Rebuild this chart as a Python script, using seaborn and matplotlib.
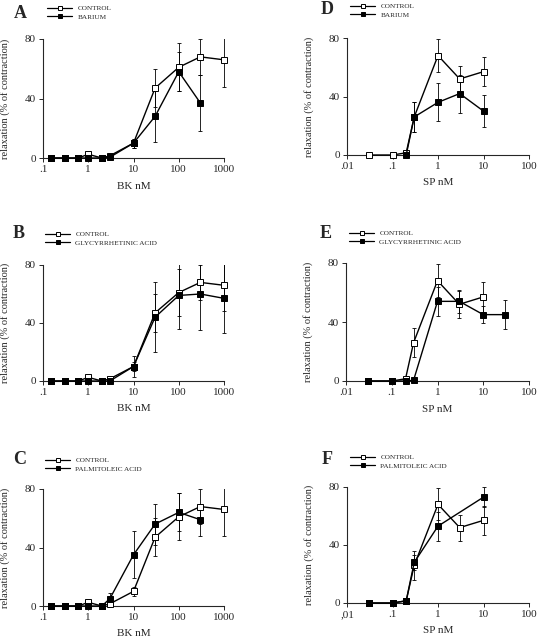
import matplotlib
matplotlib.use('Agg')
import pandas as pd
import matplotlib.pyplot as plt
import seaborn as sns
from matplotlib.lines import Line2D
from matplotlib.patches import Rectangle
from matplotlib.ticker import NullLocator

sns.set_style('ticks')
plt.rcParams['font.family'] = ['Liberation Serif', 'DejaVu Serif']

# BK concentration-response (nM)
bk_x = [0.15, 0.3, 0.6, 1, 2, 3, 10, 30, 100, 300, 1000]
bk_control = [0, 0, 0, 2.5, 0, 1.5, 10, 47, 61, 68, 66]
bk_control_err = [0, 0, 0, 1, 0, 1, 3, 13, 16, 12, 18]

bk_barium_x = [0.15, 0.3, 0.6, 1, 2, 3, 10, 30, 100, 300]
bk_barium = [0, 0, 0, 0, 0, 0.5, 10, 28, 58, 37]
bk_barium_err = [0, 0, 0, 0, 0, 0.5, 3, 17, 13, 19]

bk_glyc = [0, 0, 0, 0, 0, 0, 10, 44, 59, 60, 57]
bk_glyc_err = [0, 0, 0, 0, 0, 0, 7, 24, 23, 25, 24]

bk_palm_x = [0.15, 0.3, 0.6, 1, 2, 3, 10, 30, 100, 300]
bk_palm = [0, 0, 0, 0, 0, 5, 35, 56, 64, 59]
bk_palm_err = [0, 0, 0, 0, 0, 4, 16, 14, 13, 11]

# SP concentration-response (nM)
sp_x = [0.03, 0.1, 0.2, 0.3, 1, 3, 10]
sp_control = [0, 0, 1.5, 26, 68, 52, 57]
sp_control_err = [0, 0, 1, 10, 11, 9, 10]

sp_barium_x = [0.2, 0.3, 1, 3, 10]
sp_barium = [0, 26, 36, 42, 30]
sp_barium_err = [0, 10, 13, 13, 11]

sp_glyc_x = [0.03, 0.1, 0.2, 0.3, 1, 3, 10, 30]
sp_glyc = [0, 0, 0, 0.5, 54, 54, 45, 45]
sp_glyc_err = [0, 0, 0, 0.5, 10, 8, 6, 10]

sp_palm_x = [0.03, 0.1, 0.2, 0.3, 1, 10]
sp_palm = [0, 0, 1.5, 28, 53, 73]
sp_palm_err = [0, 0, 1, 5, 10, 7]

bk_ticks = [0.1, 1, 10, 100, 1000]
bk_ticklabels = ['.1', '1', '10', '100', '1000']
sp_ticks = [0.01, 0.1, 1, 10, 100]
sp_ticklabels = ['.01', '.1', '1', '10', '100']
sp_ticklabels_f = [',01', '.1', '1', '10', '100']

W, H = 537, 640
fig = plt.figure(figsize=(W / 100, H / 100), dpi=100)


def px_axes(left, right, top, bottom):
    return fig.add_axes([left / W, 1 - bottom / H, (right - left) / W, (bottom - top) / H])


def draw_err(ax, x, y, e):
    # error bars cut at the top of the axis only, not at the side edges
    clip = Rectangle((-0.1, -0.2), 1.2, 1.2, transform=ax.transAxes,
                     facecolor='none', edgecolor='none')
    ax.add_patch(clip)
    cont = ax.errorbar(x, y, yerr=e, fmt='none', ecolor='black', elinewidth=0.6,
                       capsize=1.3, capthick=0.6)
    for art in cont.get_children():
        art.set_clip_path(clip)


def panel(ax, cx, cy, ce, tx, ty, te, tname, xlabel, ticks, ticklabels, letter, letter_xy, leg_xy):
    df_c = pd.DataFrame({'conc': cx, 'relax': cy})
    df_t = pd.DataFrame({'conc': tx, 'relax': ty})
    draw_err(ax, cx, cy, ce)
    draw_err(ax, tx, ty, te)
    sns.lineplot(data=df_c, x='conc', y='relax', ax=ax, color='black', marker='s',
                 markersize=3.8, markerfacecolor='white', markeredgecolor='black',
                 markeredgewidth=0.7, linewidth=1.0, clip_on=False, zorder=3)
    sns.lineplot(data=df_t, x='conc', y='relax', ax=ax, color='black', marker='s',
                 markersize=3.8, markerfacecolor='black', markeredgecolor='black',
                 markeredgewidth=0.7, linewidth=1.0, clip_on=False, zorder=4)
    ax.set_xscale('log')
    ax.set_xlim(ticks[0], ticks[-1])
    ax.set_ylim(0, 80)
    ax.set_xticks(ticks)
    ax.set_xticklabels(ticklabels)
    ax.xaxis.set_minor_locator(NullLocator())
    ax.set_yticks([0, 40, 80])
    ax.tick_params(axis='both', labelsize=8, length=3, width=0.7, pad=2)
    sns.despine(ax=ax)
    for s in ['left', 'bottom']:
        ax.spines[s].set_linewidth(0.8)
    ax.set_xlabel(xlabel, fontsize=8)
    ax.set_ylabel('relaxation (% of contraction)', fontsize=7.5)
    ax.xaxis.set_label_coords(0.5, -0.2)
    ax.yaxis.set_label_coords(-0.18, 0.5)

    handles = [
        Line2D([], [], color='black', lw=0.9, marker='s', markersize=3.2,
               markerfacecolor='white', markeredgewidth=0.7),
        Line2D([], [], color='black', lw=0.9, marker='s', markersize=3.2,
               markerfacecolor='black', markeredgewidth=0.7),
    ]
    ax.legend(handles, ['CONTROL', tname], loc='upper left',
              bbox_to_anchor=(leg_xy[0] / W, 1 - leg_xy[1] / H),
              bbox_transform=fig.transFigure, frameon=False, fontsize=5.2,
              handlelength=3.5, handletextpad=0.7, labelspacing=0.35,
              borderpad=0, borderaxespad=0)
    fig.text(letter_xy[0] / W, 1 - letter_xy[1] / H, letter, fontsize=13,
             fontweight='bold', ha='center', va='center')


axA = px_axes(43, 224, 39, 158)
panel(axA, bk_x, bk_control, bk_control_err, bk_barium_x, bk_barium, bk_barium_err,
      'BARIUM', 'BK nM', bk_ticks, bk_ticklabels, 'A', (20, 14), (47, 5))

axB = px_axes(43, 224, 265, 381)
panel(axB, bk_x, bk_control, bk_control_err, bk_x, bk_glyc, bk_glyc_err,
      'GLYCYRRHETINIC ACID', 'BK nM', bk_ticks, bk_ticklabels, 'B', (19, 234), (45, 231))

axC = px_axes(43, 224, 489, 606)
panel(axC, bk_x, bk_control, bk_control_err, bk_palm_x, bk_palm, bk_palm_err,
      'PALMITOLEIC ACID', 'BK nM', bk_ticks, bk_ticklabels, 'C', (20, 459), (45, 457))

axD = px_axes(347, 529, 38, 155)
panel(axD, sp_x, sp_control, sp_control_err, sp_barium_x, sp_barium, sp_barium_err,
      'BARIUM', 'SP nM', sp_ticks, sp_ticklabels, 'D', (327, 9), (350, 3))

axE = px_axes(346, 529, 263, 381)
panel(axE, sp_x, sp_control, sp_control_err, sp_glyc_x, sp_glyc, sp_glyc_err,
      'GLYCYRRHETINIC ACID', 'SP nM', sp_ticks, sp_ticklabels, 'E', (326, 234), (349, 230))

axF = px_axes(347, 529, 487, 603)
panel(axF, sp_x, sp_control, sp_control_err, sp_palm_x, sp_palm, sp_palm_err,
      'PALMITOLEIC ACID', 'SP nM', sp_ticks, sp_ticklabels_f, 'F', (327, 460), (350, 454))

fig.savefig('out.png', dpi=100)
